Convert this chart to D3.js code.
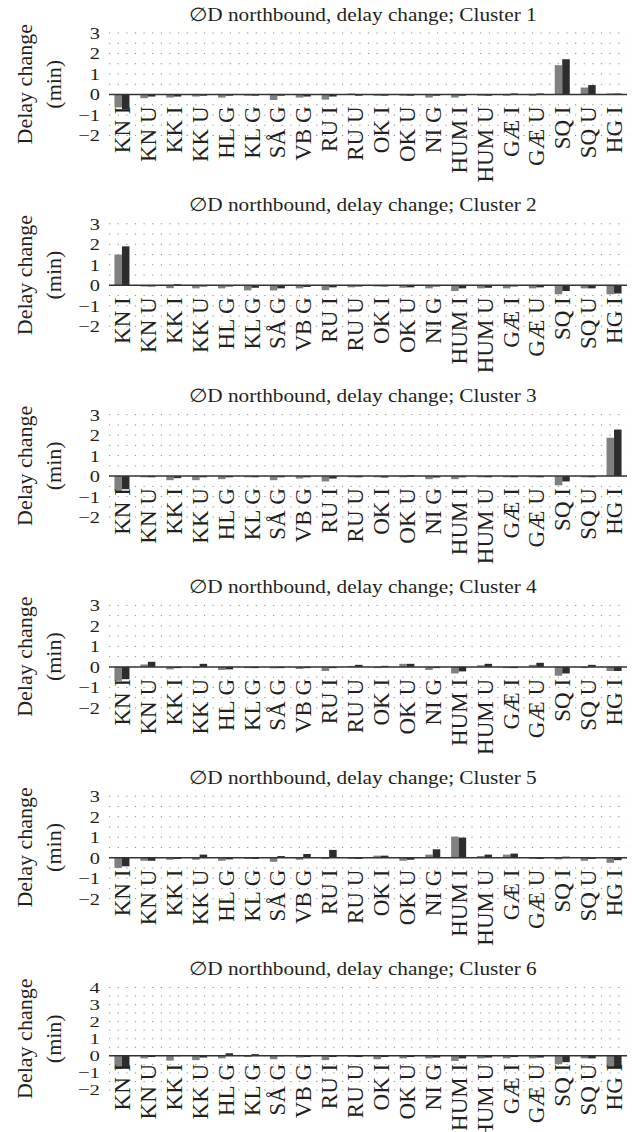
<!DOCTYPE html>
<html>
<head>
<meta charset="utf-8">
<script src="https://cdn.jsdelivr.net/npm/d3@7"></script>
<style>
  body { margin: 0; background: #fff; }
  text { font-family: "Liberation Serif", "DejaVu Serif", serif; fill: #231f20; }
</style>
</head>
<body>
<svg id="chart" width="634" height="1132"></svg>
<script>
var categories = ["KN I", "KN U", "KK I", "KK U", "HL G", "KL G", "SÅ G", "VB G", "RU I", "RU U",
                  "OK I", "OK U", "NI G", "HUM I", "HUM U", "GÆ I", "GÆ U", "SQ I", "SQ U", "HG I"];

// two series per cluster (light grey / dark grey), delay change in minutes
var c1Gray = [-0.63, -0.18, -0.15, -0.1, -0.15, -0.05, -0.27, -0.15, -0.25, 0.05, -0.03, 0, -0.15, -0.15, -0.03, 0, 0, 1.43, 0.34, 0.05];
var c1Dark = [-0.72, -0.1, -0.1, -0.05, 0, -0.03, -0.05, -0.1, -0.1, 0, -0.05, 0, -0.05, 0, -0.03, 0.05, 0.05, 1.72, 0.46, 0.05];

var c2Gray = [1.5, -0.03, -0.14, -0.15, -0.15, -0.25, -0.25, -0.15, -0.24, -0.1, -0.05, -0.12, -0.15, -0.28, -0.15, -0.15, -0.15, -0.44, -0.15, -0.44];
var c2Dark = [1.9, -0.03, 0.05, -0.05, -0.03, -0.12, -0.15, -0.08, -0.1, -0.05, -0.05, -0.1, -0.03, -0.15, -0.12, -0.03, -0.1, -0.28, -0.15, -0.4];

var c3Gray = [-0.73, 0, -0.2, -0.2, -0.15, -0.05, -0.2, -0.12, -0.26, -0.05, -0.05, 0, -0.15, -0.15, 0, 0, 0, -0.45, 0, 1.87];
var c3Dark = [-0.64, -0.05, -0.1, 0, -0.05, -0.05, 0, 0, -0.12, 0, -0.07, 0.04, -0.07, 0, 0, 0, 0, -0.26, 0, 2.27];

var c4Gray = [-0.68, 0.12, -0.12, 0, -0.15, -0.03, -0.07, -0.1, -0.2, 0.05, -0.05, 0.15, -0.15, -0.32, 0.08, -0.03, 0.1, -0.43, 0, -0.2];
var c4Dark = [-0.6, 0.25, -0.05, 0.15, -0.12, -0.03, -0.03, -0.03, -0.03, 0.1, 0.05, 0.15, -0.05, -0.22, 0.15, -0.03, 0.2, -0.32, 0.1, -0.2];

var c5Gray = [-0.5, -0.15, -0.1, -0.1, -0.15, -0.05, -0.2, -0.1, -0.05, -0.05, 0.1, -0.15, 0.15, 1.03, 0.08, 0.15, 0, -0.08, -0.15, -0.25];
var c5Dark = [-0.42, -0.15, 0, 0.15, -0.08, 0, 0.08, 0.18, 0.38, 0, 0.1, -0.1, 0.41, 0.98, 0.15, 0.2, 0, 0.05, -0.05, -0.12];

var c6Gray = [-0.77, -0.15, -0.28, -0.25, -0.15, -0.05, -0.2, -0.1, -0.25, -0.05, -0.2, -0.15, -0.15, -0.3, -0.15, -0.15, -0.15, -0.49, -0.15, -0.69];
var c6Dark = [-0.7, 0, 0.05, -0.1, 0.15, 0.1, 0.05, 0, 0, -0.05, -0.05, 0, -0.1, -0.15, -0.1, -0.05, -0.1, -0.37, -0.15, -0.69];

var ticks3 = [-2, -1, 0, 1, 2, 3];
var ticks4 = [-2, -1, 0, 1, 2, 3, 4];

var panels = [
  {name: "Cluster 1", gray: c1Gray, dark: c1Dark, ticks: ticks3},
  {name: "Cluster 2", gray: c2Gray, dark: c2Dark, ticks: ticks3},
  {name: "Cluster 3", gray: c3Gray, dark: c3Dark, ticks: ticks3},
  {name: "Cluster 4", gray: c4Gray, dark: c4Dark, ticks: ticks3},
  {name: "Cluster 5", gray: c5Gray, dark: c5Dark, ticks: ticks3},
  {name: "Cluster 6", gray: c6Gray, dark: c6Dark, ticks: ticks4}
];

var svg = d3.select("#chart");
var left = 109, right = 627;

var x0 = d3.scaleBand().domain(categories).range([left, right])
    .paddingInner(0.42).paddingOuter(0.21);
var x1 = d3.scaleBand().domain(["gray", "dark"]).range([0, x0.bandwidth()]);
var color = {gray: "#808080", dark: "#2d2d2d"};

panels.forEach(function(p, i) {
  var off = i < 5 ? i * 190.8 : 954.5;
  var top = off + 33, bottom = off + 135.5;
  var ymin = d3.min(p.ticks), ymax = d3.max(p.ticks);
  var y = d3.scaleLinear().domain([ymin, ymax]).range([bottom, top]);
  var g = svg.append("g");

  // title (source face is wider than Times, so widen it a bit)
  g.append("text")
    .attr("transform", "translate(" + ((left + right) / 2 - 5) + "," + (off + 20.5) + ") scale(1.12,1)")
    .attr("text-anchor", "middle")
    .style("font-size", "19px")
    .text("\u2205D northbound, delay change; " + p.name);

  // dotted grid every 0.5
  var grid = d3.range(ymin, ymax + 0.01, 0.5);
  g.selectAll(".grid").data(grid).enter().append("line")
    .attr("x1", left).attr("x2", right)
    .attr("y1", function(d) { return y(d); })
    .attr("y2", function(d) { return y(d); })
    .attr("stroke", "#8a8a8a")
    .attr("stroke-width", 1)
    .attr("stroke-dasharray", "1.2,7.43");

  // y axis labels
  var tight = ymax === 4;
  var yAxis = d3.axisLeft(y).tickValues(p.ticks).tickSize(0).tickPadding(0)
    .tickFormat(function(d) { return d < 0 ? "\u2212" + Math.abs(d) : d; });
  var ya = g.append("g").attr("transform", "translate(100,0)").call(yAxis);
  ya.select(".domain").remove();
  ya.selectAll("text")
    .attr("x", 0)
    .attr("transform", tight ? "scale(1.34,1)" : "scale(1.2,1)")
    .attr("fill", "#231f20")
    .style("font-size", tight ? "15.5px" : "17px")
    .style("font-family", "'Liberation Serif', serif");

  // y axis title
  var cy = (top + bottom) / 2;
  g.append("text")
    .attr("transform", "translate(32," + cy + ") rotate(-90)")
    .attr("text-anchor", "middle")
    .style("font-size", "22px")
    .text("Delay change");
  g.append("text")
    .attr("transform", "translate(61," + cy + ") rotate(-90)")
    .attr("text-anchor", "middle")
    .style("font-size", "22px")
    .text("(min)");

  // bars
  var groups = g.selectAll(".grp").data(categories).enter().append("g")
    .attr("transform", function(d) { return "translate(" + x0(d) + ",0)"; });
  groups.selectAll("rect")
    .data(function(d, j) { return [{k: "gray", v: p.gray[j]}, {k: "dark", v: p.dark[j]}]; })
    .enter().append("rect")
    .attr("x", function(d) { return x1(d.k); })
    .attr("width", x1.bandwidth())
    .attr("y", function(d) { return y(Math.max(0, d.v)); })
    .attr("height", function(d) { return Math.max(Math.abs(y(d.v) - y(0)), 1.2); })
    .attr("fill", function(d) { return color[d.k]; });

  // zero line
  g.append("line")
    .attr("x1", left).attr("x2", right)
    .attr("y1", y(0)).attr("y2", y(0))
    .attr("stroke", "#333").attr("stroke-width", 1.5);

  // category labels
  var gap = tight ? 8 : 12;
  g.selectAll(".cat").data(categories).enter().append("text")
    .attr("transform", function(d) {
      return "translate(" + (x0(d) + x0.bandwidth() / 2) + "," + (y(0) + gap) + ") rotate(-90)";
    })
    .attr("text-anchor", "end")
    .attr("dy", "0.35em")
    .style("font-size", "23px")
    .text(function(d) { return d; });
});
</script>
</body>
</html>
